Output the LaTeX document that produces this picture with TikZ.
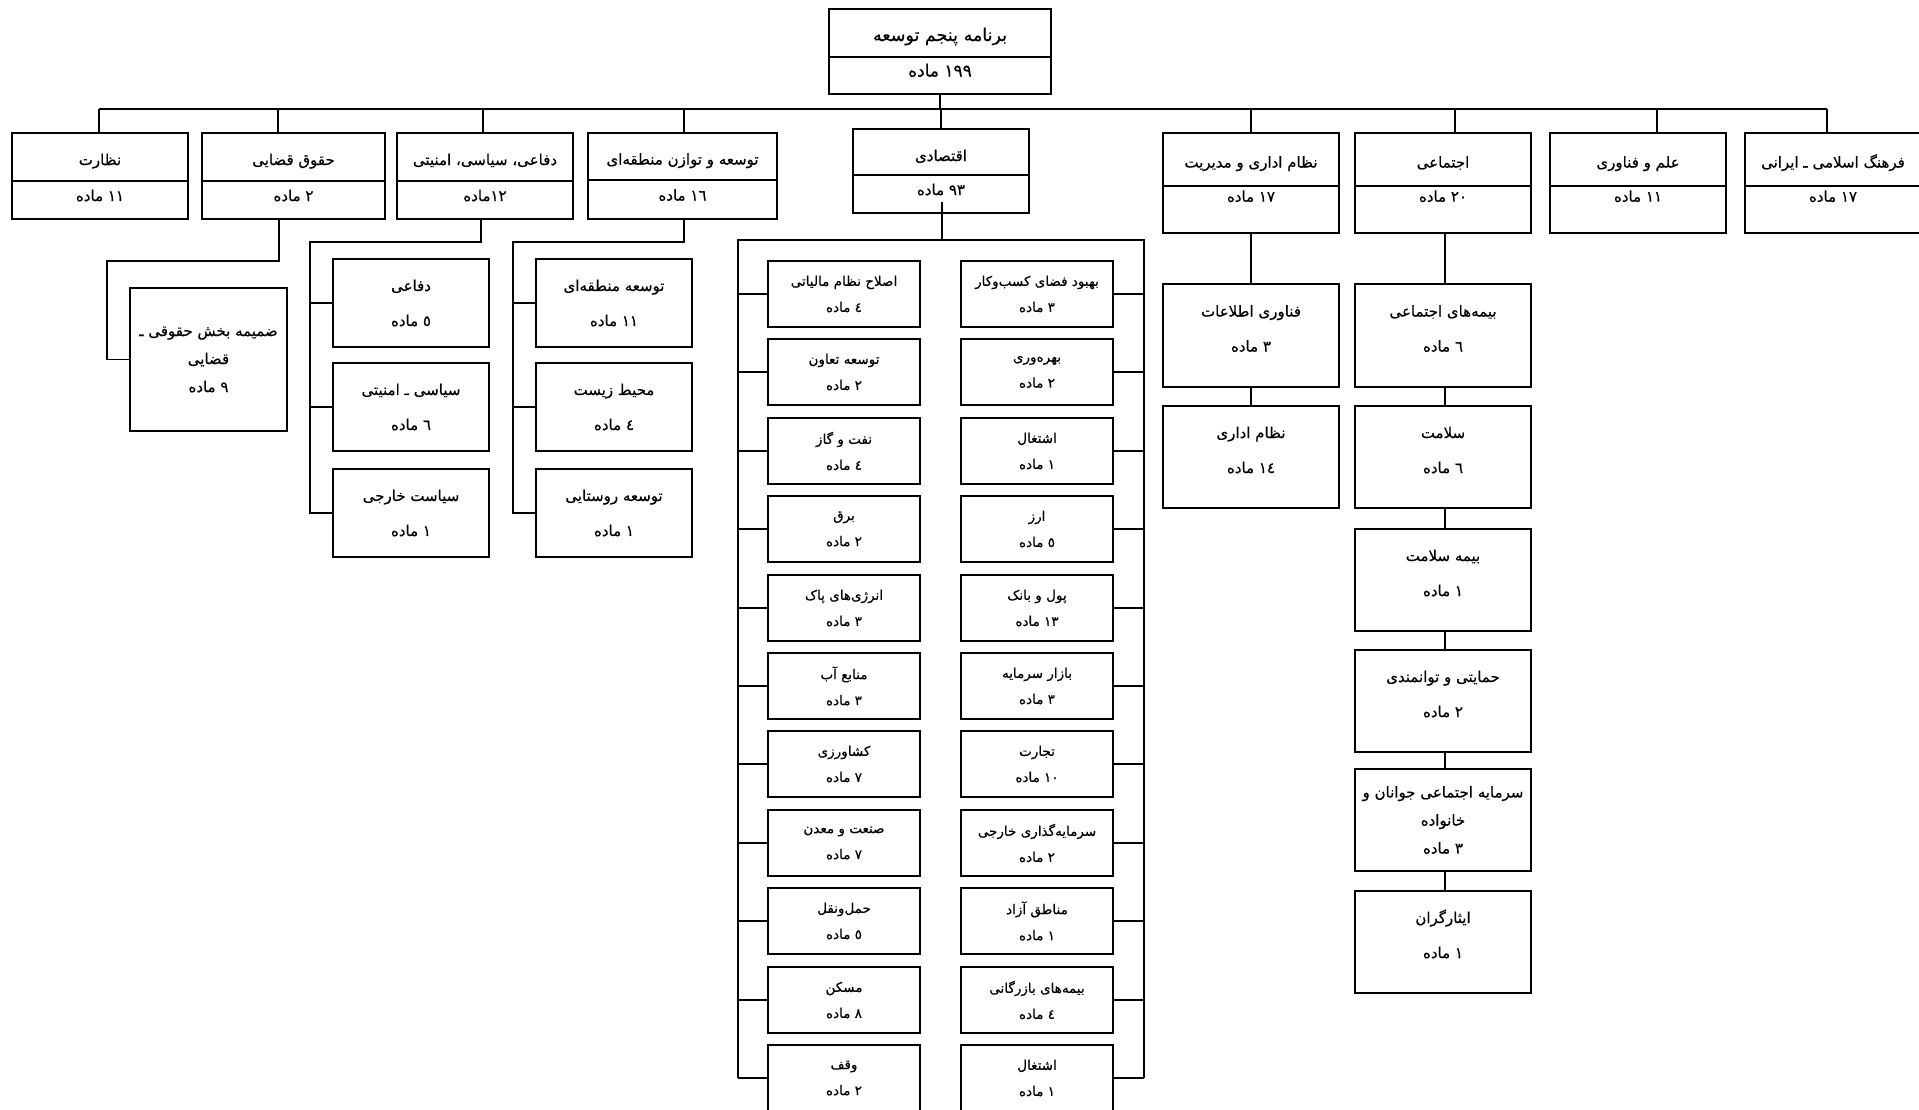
\documentclass[tikz,border=0pt]{standalone}
\usepackage{fontspec}
\newfontfamily\arabicfont[Script=Arabic,FakeBold=0.5]{DejaVu Sans}
\TeXXeTstate=1
\newcommand{\fa}[1]{\beginR #1\endR}
\tikzset{
 bx/.style={draw, line width=1.6pt, inner sep=0pt, align=center, font=\arabicfont\fontsize{15}{35}\selectfont},
 tbx/.style={bx, font=\arabicfont\fontsize{15}{28}\selectfont},
 ebx/.style={bx, minimum width=152pt, minimum height=66pt, font=\arabicfont\fontsize{13.5}{26}\selectfont},
 ttl/.style={text height=16pt, text depth=0pt},
 num/.style={text height=8pt, text depth=6pt},
 hi/.style={text height=46pt, text depth=14pt},
 ln/.style={line width=1.6pt},
 txt/.style={inner sep=0pt, font=\arabicfont\fontsize{15}{18}\selectfont},
}
\begin{document}
\begin{tikzpicture}[x=1pt,y=-1pt]
\useasboundingbox[fill=white] (0,0) rectangle (1919,1109);

% top
\node[bx, ttl, minimum width=222pt, minimum height=48pt, font=\arabicfont\fontsize{17.5}{20}\selectfont] (T1) at (940,33) {\fa{برنامه پنجم توسعه}};
\node[bx, num, minimum width=222pt, minimum height=37pt, font=\arabicfont\fontsize{17}{20}\selectfont] (T2) at (940,75.5) {\fa{١٩٩ ماده}};

% row 1 left group
\node[bx, ttl, minimum width=176pt, minimum height=48pt] (A1) at (100,157) {\fa{نظارت}};
\node[bx, num, minimum width=176pt, minimum height=38pt] (A2) at (100,200) {\fa{١١ ماده}};
\node[bx, ttl, minimum width=183pt, minimum height=48pt] (B1) at (293.5,157) {\fa{حقوق قضایی}};
\node[bx, num, minimum width=183pt, minimum height=38pt] (B2) at (293.5,200) {\fa{٢ ماده}};
\node[bx, ttl, minimum width=176pt, minimum height=48pt] (C1) at (485,157) {\fa{دفاعی، سیاسی، امنیتی}};
\node[bx, num, minimum width=176pt, minimum height=38pt] (C2) at (485,200) {\fa{١٢ماده}};
\node[bx, ttl, minimum width=189pt, minimum height=47pt] (D1) at (682.5,156.5) {\fa{توسعه و توازن منطقه‌ای}};
\node[bx, num, minimum width=189pt, minimum height=39pt] (D2) at (682.5,199.5) {\fa{١٦ ماده}};
\node[bx, ttl, minimum width=176pt, minimum height=46pt, text height=18pt] (E1) at (941,152) {\fa{اقتصادی}};
\node[bx, num, minimum width=176pt, minimum height=38pt] (E2) at (941,194) {\fa{٩٣ ماده}};

% row 1 right group
\node[bx, ttl, minimum width=176pt, minimum height=53pt] (F1) at (1251,159.5) {\fa{نظام اداری و مدیریت}};
\node[bx, minimum width=176pt, minimum height=47pt] (F2) at (1251,209.5) {};
\node[txt] (F2t) at ([yshift=-11pt]F2.north) {\fa{١٧ ماده}};
\node[bx, ttl, minimum width=176pt, minimum height=53pt] (G1) at (1443,159.5) {\fa{اجتماعی}};
\node[bx, minimum width=176pt, minimum height=47pt] (G2) at (1443,209.5) {};
\node[txt] (G2t) at ([yshift=-11pt]G2.north) {\fa{٢٠ ماده}};
\node[bx, ttl, minimum width=176pt, minimum height=53pt] (H1) at (1638,159.5) {\fa{علم و فناوری}};
\node[bx, minimum width=176pt, minimum height=47pt] (H2) at (1638,209.5) {};
\node[txt] (H2t) at ([yshift=-11pt]H2.north) {\fa{١١ ماده}};
\node[bx, ttl, minimum width=176pt, minimum height=53pt] (I1) at (1833,159.5) {\fa{فرهنگ اسلامی ـ ایرانی}};
\node[bx, minimum width=176pt, minimum height=47pt] (I2) at (1833,209.5) {};
\node[txt] (I2t) at ([yshift=-11pt]I2.north) {\fa{١٧ ماده}};

% children of B
\node[tbx, minimum width=157pt, minimum height=143pt] (B3) at (208.5,359.5) {\fa{ضمیمه بخش حقوقی ـ}\\\fa{قضایی}\\\fa{٩ ماده}};

% children of C
\node[bx, minimum width=156pt, minimum height=88pt] (C3) at (411,303) {\fa{دفاعی}\\\fa{٥ ماده}};
\node[bx, minimum width=156pt, minimum height=88pt] (C4) at (411,407) {\fa{سیاسی ـ امنیتی}\\\fa{٦ ماده}};
\node[bx, minimum width=156pt, minimum height=88pt] (C5) at (411,513) {\fa{سیاست خارجی}\\\fa{١ ماده}};

% children of D
\node[bx, minimum width=156pt, minimum height=88pt] (D3) at (614,303) {\fa{توسعه منطقه‌ای}\\\fa{١١ ماده}};
\node[bx, minimum width=156pt, minimum height=88pt] (D4) at (614,407) {\fa{محیط زیست}\\\fa{٤ ماده}};
\node[bx, minimum width=156pt, minimum height=88pt] (D5) at (614,513) {\fa{توسعه روستایی}\\\fa{١ ماده}};

% children of E
\foreach \ti/\nm [count=\i from 0] in {اصلاح نظام مالیاتی/٤,توسعه تعاون/٢,نفت و گاز/٤,برق/٢,انرژی‌های پاک/٣,منابع آب/٣,کشاورزی/٧,صنعت و معدن/٧,حمل‌ونقل/٥,مسکن/٨,وقف/٢}
  {\node[ebx] (L\i) at (844,{round(294+78.4*\i)}) {\fa{\ti}\\\fa{{\nm} ماده}};}
\foreach \ti/\nm [count=\i from 0] in {بهبود فضای کسب‌وکار/٣,بهره‌وری/٢,اشتغال/١,ارز/٥,پول و بانک/١٣,بازار سرمایه/٣,تجارت/١٠,سرمایه‌گذاری خارجی/٢,مناطق آزاد/١,بیمه‌های بازرگانی/٤,اشتغال/١}
  {\node[ebx] (R\i) at (1037,{round(294+78.4*\i)}) {\fa{\ti}\\\fa{{\nm} ماده}};}

% children of F
\node[bx, hi, minimum width=176pt, minimum height=103pt] (F3) at (1251,335.5) {\fa{فناوری اطلاعات}\\\fa{٣ ماده}};
\node[bx, hi, minimum width=176pt, minimum height=102pt] (F4) at (1251,457) {\fa{نظام اداری}\\\fa{١٤ ماده}};

% children of G
\node[bx, hi, minimum width=176pt, minimum height=103pt] (G3) at (1443,335.5) {\fa{بیمه‌های اجتماعی}\\\fa{٦ ماده}};
\node[bx, hi, minimum width=176pt, minimum height=102pt] (G4) at (1443,457) {\fa{سلامت}\\\fa{٦ ماده}};
\node[bx, hi, minimum width=176pt, minimum height=102pt] (G5) at (1443,580) {\fa{بیمه سلامت}\\\fa{١ ماده}};
\node[bx, hi, minimum width=176pt, minimum height=102pt] (G6) at (1443,701) {\fa{حمایتی و توانمندی}\\\fa{٢ ماده}};
\node[tbx, minimum width=176pt, minimum height=102pt] (G7) at (1443,820) {\fa{سرمایه اجتماعی جوانان و}\\\fa{خانواده}\\\fa{٣ ماده}};
\node[bx, hi, minimum width=176pt, minimum height=102pt] (G8) at (1443,942) {\fa{ایثارگران}\\\fa{١ ماده}};

% ---------- connectors ----------
\coordinate (busL) at (99,109);
\coordinate (busR) at (1827,109);
\draw[ln] (busL) -- (busR);
\draw[ln] (T2.south) -- (T2.south |- busL);
\coordinate (a0) at ([xshift=-1pt]A1.north);
\coordinate (b0) at ([xshift=-15.5pt]B1.north);
\coordinate (c0) at ([xshift=-2pt]C1.north);
\coordinate (d0) at ([xshift=1.5pt]D1.north);
\coordinate (e0) at (E1.north);
\coordinate (f0) at (F1.north);
\coordinate (g0) at ([xshift=12pt]G1.north);
\coordinate (h0) at ([xshift=19pt]H1.north);
\coordinate (i0) at ([xshift=-6pt]I1.north);
\foreach \p in {a0,b0,c0,d0,e0,f0,g0,h0,i0} {\draw[ln] (\p) -- (\p |- busL);}

% B
\coordinate (b1) at ([xshift=-14.5pt]B2.south);
\draw[ln] (b1) -- ++(0,41) -| ([xshift=-22pt]B3.west) -- (B3.west);

% C
\coordinate (c1) at ([xshift=-4pt]C2.south);
\coordinate (cbus) at (310,242);
\draw[ln] (c1) |- (cbus) -- (cbus |- C5.west) -- (C5.west);
\draw[ln] (cbus |- C3.west) -- (C3.west);
\draw[ln] (cbus |- C4.west) -- (C4.west);

% D
\coordinate (d1) at ([xshift=1.5pt]D2.south);
\coordinate (dbus) at (513,242);
\draw[ln] (d1) |- (dbus) -- (dbus |- D5.west) -- (D5.west);
\draw[ln] (dbus |- D3.west) -- (D3.west);
\draw[ln] (dbus |- D4.west) -- (D4.west);

% E
\coordinate (e1) at ([xshift=1pt,yshift=-8pt]E2.center);
\coordinate (eL) at (738,240);
\coordinate (eR) at (1144,240);
\draw[ln] (e1) -- (e1 |- eL);
\draw[ln] (eL |- L10.west) -- (eL) -- (eR) -- (eR |- R10.east);
\foreach \i in {0,...,10} {
  \draw[ln] (eL |- L\i.west) -- (L\i.west);
  \draw[ln] (eR |- R\i.east) -- (R\i.east);
}

% F
\draw[ln] (F2.south) -- (F3.north);
\draw[ln] (F3.south) -- (F4.north);

% G
\draw[ln] ([xshift=2pt]G2.south) -- ([xshift=2pt]G3.north);
\draw[ln] ([xshift=2pt]G3.south) -- ([xshift=2pt]G4.north);
\draw[ln] ([xshift=2pt]G4.south) -- ([xshift=2pt]G5.north);
\draw[ln] ([xshift=2pt]G5.south) -- ([xshift=2pt]G6.north);
\draw[ln] ([xshift=2pt]G6.south) -- ([xshift=2pt]G7.north);
\draw[ln] ([xshift=2pt]G7.south) -- ([xshift=2pt]G8.north);
\end{tikzpicture}
\end{document}
